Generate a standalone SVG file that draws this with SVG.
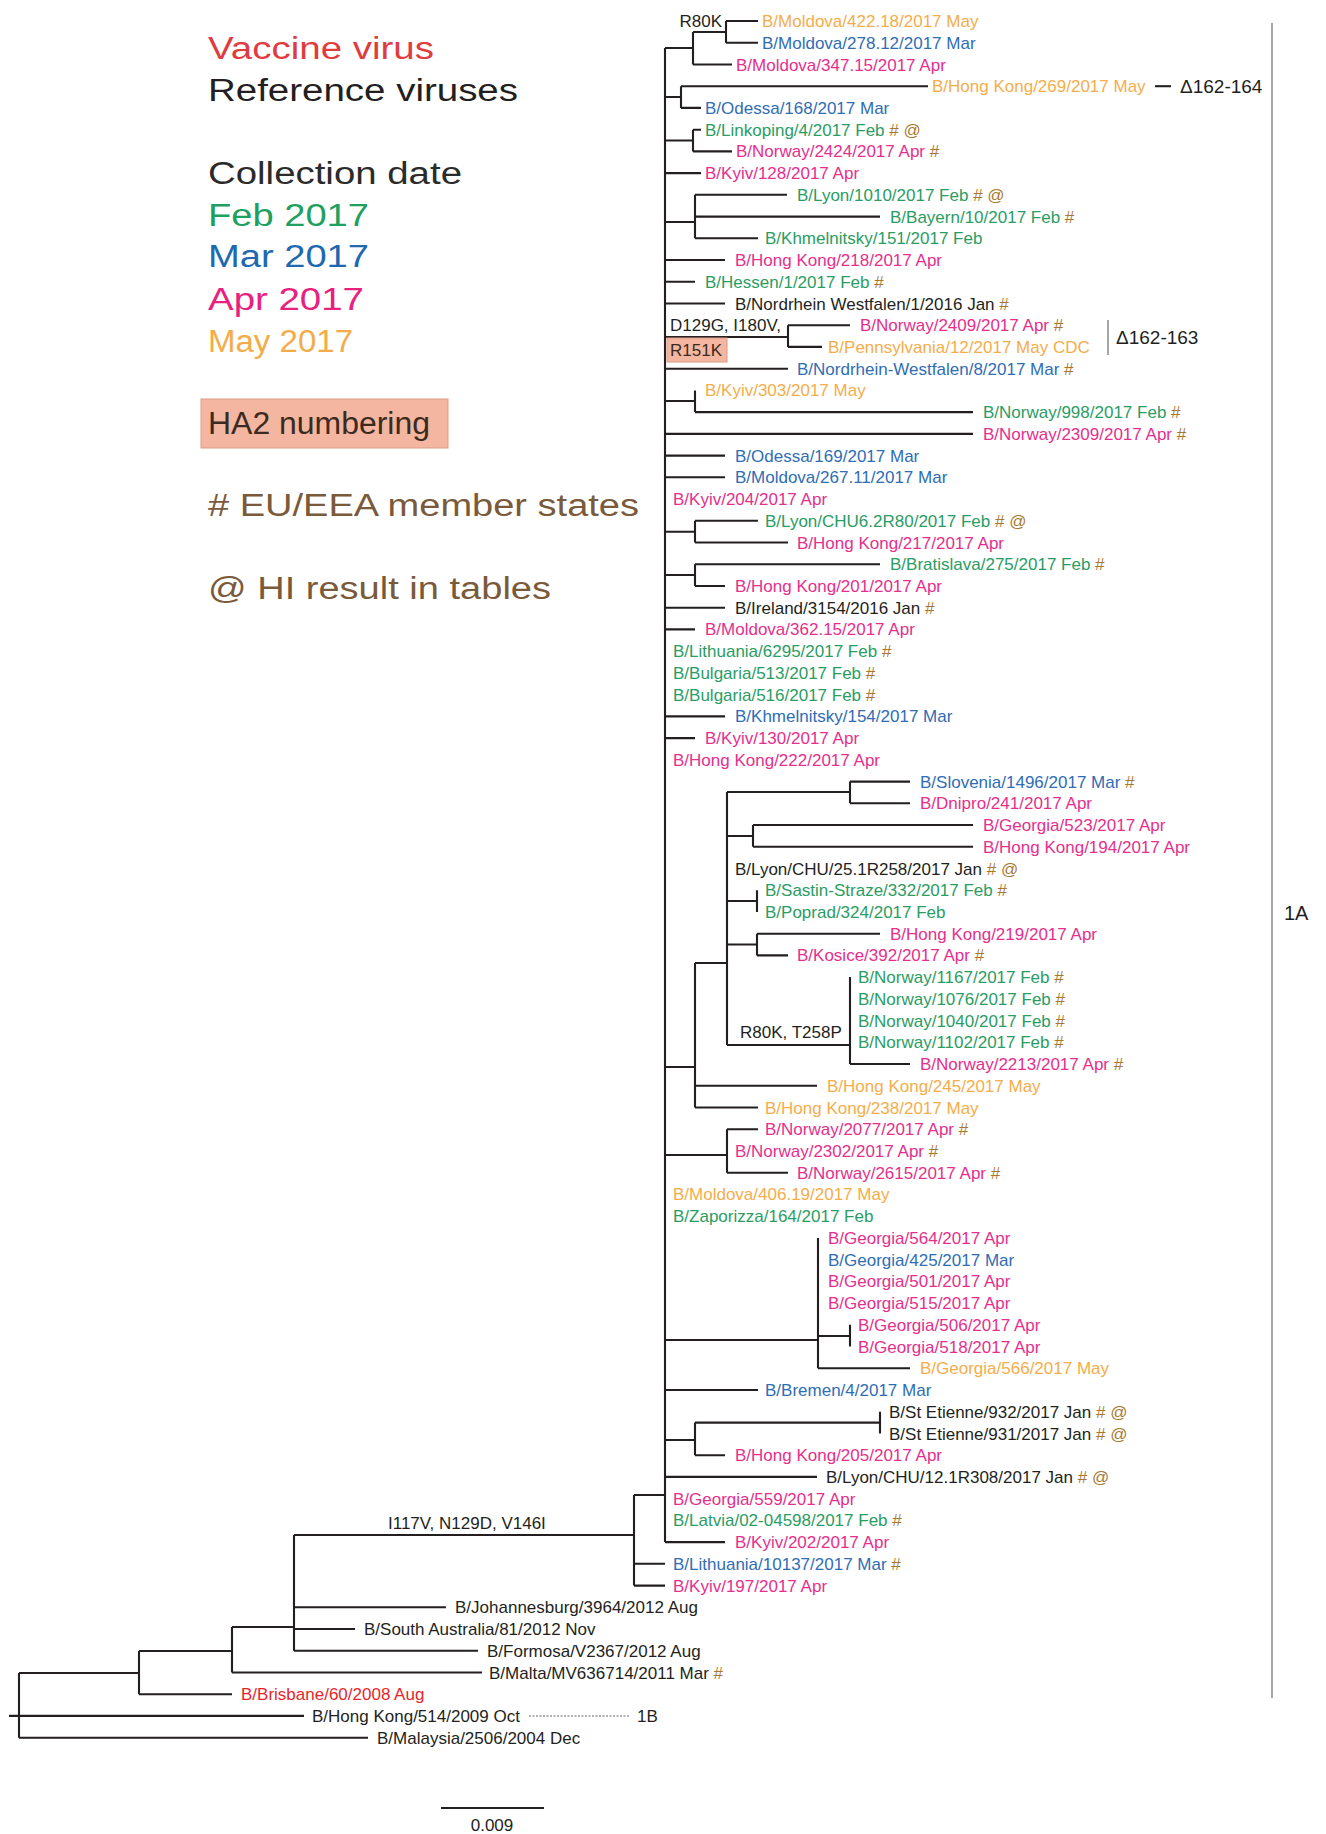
<svg xmlns="http://www.w3.org/2000/svg" width="1326" height="1834" viewBox="0 0 1326 1834">
<style>
text{font-family:"Liberation Sans",Arial,Helvetica,sans-serif}
.t{font-size:17px}
.lg{font-size:31px}
.big{font-size:19px}
.g{fill:#2a9d63}.b{fill:#2f6db5}.p{fill:#e62f8c}.o{fill:#f5ad4b}.k{fill:#231f20}.m{fill:#a8782f}.r{fill:#e8262a}
.br{fill:none;stroke:#231f20;stroke-width:2.1}
.thin{fill:none;stroke:#777;stroke-width:1.3}
.box{fill:#f4b6a0;stroke:#dd9c84;stroke-width:1}
</style>
<rect width="1326" height="1834" fill="#fff"/>
<g id="legend">
<text class="lg" x="208" y="59" fill="#e03c3f" textLength="226" lengthAdjust="spacingAndGlyphs">Vaccine virus</text>
<text class="lg" x="208" y="101" fill="#231f20" textLength="310" lengthAdjust="spacingAndGlyphs">Reference viruses</text>
<text class="lg" x="208" y="184" fill="#2b2b2b" textLength="254" lengthAdjust="spacingAndGlyphs">Collection date</text>
<text class="lg" x="208" y="226" fill="#20a060" textLength="161" lengthAdjust="spacingAndGlyphs">Feb 2017</text>
<text class="lg" x="208" y="267" fill="#2068b0" textLength="161" lengthAdjust="spacingAndGlyphs">Mar 2017</text>
<text class="lg" x="208" y="310" fill="#e8207e" textLength="156" lengthAdjust="spacingAndGlyphs">Apr 2017</text>
<text class="lg" x="208" y="352" fill="#f4ac4a" textLength="145" lengthAdjust="spacingAndGlyphs">May 2017</text>
<rect class="box" x="201" y="399" width="247" height="49"/>
<text class="lg" x="208" y="434" fill="#3a2a20" textLength="222" lengthAdjust="spacingAndGlyphs">HA2 numbering</text>
<text class="lg" x="208" y="516" fill="#7a5a3a" textLength="431" lengthAdjust="spacingAndGlyphs"># EU/EEA member states</text>
<text class="lg" x="208" y="599" fill="#7a5a3a" textLength="343" lengthAdjust="spacingAndGlyphs">@ HI result in tables</text>
</g>
<g id="connectors">
<path class="br" d="M665 48V1542.1M665 48H693M693 32V64.5M693 32H726M726 21V42.7M726 21H758M726 42.7H758M693 64.5H732
M665 97H681M681 86.2V107.9M681 86.2H928M681 107.9H701
M665 140.5H693M693 129.7V151.4M693 129.7H701M693 151.4H732
M665 173.1H701
M665 222H695M695 194.8V238.3M695 194.8H787M695 216.6H880M695 238.3H758
M665 260H725M665 281.8H695M665 303.5H725
M665 337H788M788 325.2V346.9M788 325.2H850M788 346.9H822
M665 368.7H788
M665 401H695M695 390.4V412.1M695 412.1H973M665 433.9H973
M665 455.6H725M665 477.3H725
M665 531.7H695M695 520.8V542.5M695 520.8H758M695 542.5H788
M665 575H695M695 564.3V586M695 564.3H880M695 586H725
M665 607.7H725M665 629.4H695M665 716.4H725M665 738.1H695
M665 1067H695M695 963V1107.5M695 963H727M695 1085.8H817M695 1107.5H758
M727 792V1045M727 792H850M850 781.6V803.3M850 781.6H910M850 803.3H910
M727 836H753M753 825V846.7M753 825H973M753 846.7H973
M727 901H757M757 890.2V911.9
M727 944.5H757M757 933.7V955.4M757 933.7H880M757 955.4H788
M727 1045H850M850 977.1V1064M850 1064H910
M665 1155H727M727 1129.2V1172.7M727 1129.2H758M727 1172.7H788
M665 1340H818M818 1237.9V1368.3M818 1336H850M850 1324.8V1346.5M818 1368.3H910
M665 1390H758
M665 1440H695M695 1422.6V1455.2M695 1422.6H880M880 1411.7V1433.5M695 1455.2H725
M665 1476.9H817
M665 1542.1H725
M634 1495H665M634 1495V1585.6M634 1563.8H665M634 1585.6H665
M294 1535H634M294 1535V1650.8M294 1607.3H446M294 1629H355M294 1650.8H478M232 1627H294
M232 1627V1672.5M232 1672.5H482M139 1651H232
M139 1651V1694.2M139 1694.2H232M19 1673H139
M19 1673V1737.7M19 1737.7H368
M9 1715.9H304"/>
<path class="br" d="M441 1808H544"/>
<path d="M529 1716H629" stroke="#666" stroke-width="1.2" stroke-dasharray="2 1.5" fill="none"/>
<path class="br" d="M1155 86.2H1171" stroke-width="1.5"/>
<path class="thin" d="M1108 320V355"/>
<path class="thin" d="M1272 23V1698"/>
</g>
<g id="annotations" class="t">
<text class="k" x="722" y="27" text-anchor="end">R80K</text>
<text class="k big" x="1180" y="93">Δ162-164</text>
<text class="k" x="670" y="331">D129G, I180V,</text>
<rect class="box" x="667" y="338" width="60" height="24"/>
<text x="670" y="356" fill="#3a2a20">R151K</text>
<text class="k big" x="1116" y="344">Δ162-163</text>
<text class="k" x="740" y="1038">R80K, T258P</text>
<text class="k" x="388" y="1529">I117V, N129D, V146I</text>
<text class="k" x="637" y="1722">1B</text>
<text class="k" x="1284" y="920" font-size="20">1A</text>
<text class="k" x="492" y="1831" text-anchor="middle">0.009</text>
</g>
<g id="leaves" class="t">
<g id="leaf-00"><text class="o" x="762" y="27">B/Moldova/422.18/2017 May</text></g>
<g id="leaf-01"><text class="b" x="762" y="48.7">B/Moldova/278.12/2017 Mar</text></g>
<g id="leaf-02"><text class="p" x="736" y="70.5">B/Moldova/347.15/2017 Apr</text></g>
<g id="leaf-03"><text class="o" x="932" y="92.2">B/Hong Kong/269/2017 May</text></g>
<g id="leaf-04"><text class="b" x="705" y="113.9">B/Odessa/168/2017 Mar</text></g>
<g id="leaf-05"><text class="g" x="705" y="135.7">B/Linkoping/4/2017 Feb<tspan class="m"> # @</tspan></text></g>
<g id="leaf-06"><text class="p" x="736" y="157.4">B/Norway/2424/2017 Apr<tspan class="m"> #</tspan></text></g>
<g id="leaf-07"><text class="p" x="705" y="179.1">B/Kyiv/128/2017 Apr</text></g>
<g id="leaf-08"><text class="g" x="797" y="200.8">B/Lyon/1010/2017 Feb<tspan class="m"> # @</tspan></text></g>
<g id="leaf-09"><text class="g" x="890" y="222.6">B/Bayern/10/2017 Feb<tspan class="m"> #</tspan></text></g>
<g id="leaf-10"><text class="g" x="765" y="244.3">B/Khmelnitsky/151/2017 Feb</text></g>
<g id="leaf-11"><text class="p" x="735" y="266">B/Hong Kong/218/2017 Apr</text></g>
<g id="leaf-12"><text class="g" x="705" y="287.8">B/Hessen/1/2017 Feb<tspan class="m"> #</tspan></text></g>
<g id="leaf-13"><text class="k" x="735" y="309.5">B/Nordrhein Westfalen/1/2016 Jan<tspan class="m"> #</tspan></text></g>
<g id="leaf-14"><text class="p" x="860" y="331.2">B/Norway/2409/2017 Apr<tspan class="m"> #</tspan></text></g>
<g id="leaf-15"><text class="o" x="828" y="352.9">B/Pennsylvania/12/2017 May CDC</text></g>
<g id="leaf-16"><text class="b" x="797" y="374.7">B/Nordrhein-Westfalen/8/2017 Mar<tspan class="m"> #</tspan></text></g>
<g id="leaf-17"><text class="o" x="705" y="396.4">B/Kyiv/303/2017 May</text></g>
<g id="leaf-18"><text class="g" x="983" y="418.1">B/Norway/998/2017 Feb<tspan class="m"> #</tspan></text></g>
<g id="leaf-19"><text class="p" x="983" y="439.9">B/Norway/2309/2017 Apr<tspan class="m"> #</tspan></text></g>
<g id="leaf-20"><text class="b" x="735" y="461.6">B/Odessa/169/2017 Mar</text></g>
<g id="leaf-21"><text class="b" x="735" y="483.3">B/Moldova/267.11/2017 Mar</text></g>
<g id="leaf-22"><text class="p" x="673" y="505.1">B/Kyiv/204/2017 Apr</text></g>
<g id="leaf-23"><text class="g" x="765" y="526.8">B/Lyon/CHU6.2R80/2017 Feb<tspan class="m"> # @</tspan></text></g>
<g id="leaf-24"><text class="p" x="797" y="548.5">B/Hong Kong/217/2017 Apr</text></g>
<g id="leaf-25"><text class="g" x="890" y="570.3">B/Bratislava/275/2017 Feb<tspan class="m"> #</tspan></text></g>
<g id="leaf-26"><text class="p" x="735" y="592">B/Hong Kong/201/2017 Apr</text></g>
<g id="leaf-27"><text class="k" x="735" y="613.7">B/Ireland/3154/2016 Jan<tspan class="m"> #</tspan></text></g>
<g id="leaf-28"><text class="p" x="705" y="635.4">B/Moldova/362.15/2017 Apr</text></g>
<g id="leaf-29"><text class="g" x="673" y="657.2">B/Lithuania/6295/2017 Feb<tspan class="m"> #</tspan></text></g>
<g id="leaf-30"><text class="g" x="673" y="678.9">B/Bulgaria/513/2017 Feb<tspan class="m"> #</tspan></text></g>
<g id="leaf-31"><text class="g" x="673" y="700.6">B/Bulgaria/516/2017 Feb<tspan class="m"> #</tspan></text></g>
<g id="leaf-32"><text class="b" x="735" y="722.4">B/Khmelnitsky/154/2017 Mar</text></g>
<g id="leaf-33"><text class="p" x="705" y="744.1">B/Kyiv/130/2017 Apr</text></g>
<g id="leaf-34"><text class="p" x="673" y="765.8">B/Hong Kong/222/2017 Apr</text></g>
<g id="leaf-35"><text class="b" x="920" y="787.6">B/Slovenia/1496/2017 Mar<tspan class="m"> #</tspan></text></g>
<g id="leaf-36"><text class="p" x="920" y="809.3">B/Dnipro/241/2017 Apr</text></g>
<g id="leaf-37"><text class="p" x="983" y="831">B/Georgia/523/2017 Apr</text></g>
<g id="leaf-38"><text class="p" x="983" y="852.7">B/Hong Kong/194/2017 Apr</text></g>
<g id="leaf-39"><text class="k" x="735" y="874.5">B/Lyon/CHU/25.1R258/2017 Jan<tspan class="m"> # @</tspan></text></g>
<g id="leaf-40"><text class="g" x="765" y="896.2">B/Sastin-Straze/332/2017 Feb<tspan class="m"> #</tspan></text></g>
<g id="leaf-41"><text class="g" x="765" y="917.9">B/Poprad/324/2017 Feb</text></g>
<g id="leaf-42"><text class="p" x="890" y="939.7">B/Hong Kong/219/2017 Apr</text></g>
<g id="leaf-43"><text class="p" x="797" y="961.4">B/Kosice/392/2017 Apr<tspan class="m"> #</tspan></text></g>
<g id="leaf-44"><text class="g" x="858" y="983.1">B/Norway/1167/2017 Feb<tspan class="m"> #</tspan></text></g>
<g id="leaf-45"><text class="g" x="858" y="1004.9">B/Norway/1076/2017 Feb<tspan class="m"> #</tspan></text></g>
<g id="leaf-46"><text class="g" x="858" y="1026.6">B/Norway/1040/2017 Feb<tspan class="m"> #</tspan></text></g>
<g id="leaf-47"><text class="g" x="858" y="1048.3">B/Norway/1102/2017 Feb<tspan class="m"> #</tspan></text></g>
<g id="leaf-48"><text class="p" x="920" y="1070">B/Norway/2213/2017 Apr<tspan class="m"> #</tspan></text></g>
<g id="leaf-49"><text class="o" x="827" y="1091.8">B/Hong Kong/245/2017 May</text></g>
<g id="leaf-50"><text class="o" x="765" y="1113.5">B/Hong Kong/238/2017 May</text></g>
<g id="leaf-51"><text class="p" x="765" y="1135.2">B/Norway/2077/2017 Apr<tspan class="m"> #</tspan></text></g>
<g id="leaf-52"><text class="p" x="735" y="1157">B/Norway/2302/2017 Apr<tspan class="m"> #</tspan></text></g>
<g id="leaf-53"><text class="p" x="797" y="1178.7">B/Norway/2615/2017 Apr<tspan class="m"> #</tspan></text></g>
<g id="leaf-54"><text class="o" x="673" y="1200.4">B/Moldova/406.19/2017 May</text></g>
<g id="leaf-55"><text class="g" x="673" y="1222.2">B/Zaporizza/164/2017 Feb</text></g>
<g id="leaf-56"><text class="p" x="828" y="1243.9">B/Georgia/564/2017 Apr</text></g>
<g id="leaf-57"><text class="b" x="828" y="1265.6">B/Georgia/425/2017 Mar</text></g>
<g id="leaf-58"><text class="p" x="828" y="1287.3">B/Georgia/501/2017 Apr</text></g>
<g id="leaf-59"><text class="p" x="828" y="1309.1">B/Georgia/515/2017 Apr</text></g>
<g id="leaf-60"><text class="p" x="858" y="1330.8">B/Georgia/506/2017 Apr</text></g>
<g id="leaf-61"><text class="p" x="858" y="1352.5">B/Georgia/518/2017 Apr</text></g>
<g id="leaf-62"><text class="o" x="920" y="1374.3">B/Georgia/566/2017 May</text></g>
<g id="leaf-63"><text class="b" x="765" y="1396">B/Bremen/4/2017 Mar</text></g>
<g id="leaf-64"><text class="k" x="889" y="1417.7">B/St Etienne/932/2017 Jan<tspan class="m"> # @</tspan></text></g>
<g id="leaf-65"><text class="k" x="889" y="1439.5">B/St Etienne/931/2017 Jan<tspan class="m"> # @</tspan></text></g>
<g id="leaf-66"><text class="p" x="735" y="1461.2">B/Hong Kong/205/2017 Apr</text></g>
<g id="leaf-67"><text class="k" x="826" y="1482.9">B/Lyon/CHU/12.1R308/2017 Jan<tspan class="m"> # @</tspan></text></g>
<g id="leaf-68"><text class="p" x="673" y="1504.6">B/Georgia/559/2017 Apr</text></g>
<g id="leaf-69"><text class="g" x="673" y="1526.4">B/Latvia/02-04598/2017 Feb<tspan class="m"> #</tspan></text></g>
<g id="leaf-70"><text class="p" x="735" y="1548.1">B/Kyiv/202/2017 Apr</text></g>
<g id="leaf-71"><text class="b" x="673" y="1569.8">B/Lithuania/10137/2017 Mar<tspan class="m"> #</tspan></text></g>
<g id="leaf-72"><text class="p" x="673" y="1591.6">B/Kyiv/197/2017 Apr</text></g>
<g id="leaf-73"><text class="k" x="455" y="1613.3">B/Johannesburg/3964/2012 Aug</text></g>
<g id="leaf-74"><text class="k" x="364" y="1635">B/South Australia/81/2012 Nov</text></g>
<g id="leaf-75"><text class="k" x="487" y="1656.8">B/Formosa/V2367/2012 Aug</text></g>
<g id="leaf-76"><text class="k" x="489" y="1678.5">B/Malta/MV636714/2011 Mar<tspan class="m"> #</tspan></text></g>
<g id="leaf-77"><text class="r" x="241" y="1700.2">B/Brisbane/60/2008 Aug</text></g>
<g id="leaf-78"><text class="k" x="312" y="1721.9">B/Hong Kong/514/2009 Oct</text></g>
<g id="leaf-79"><text class="k" x="377" y="1743.7">B/Malaysia/2506/2004 Dec</text></g>
</g>
</svg>
